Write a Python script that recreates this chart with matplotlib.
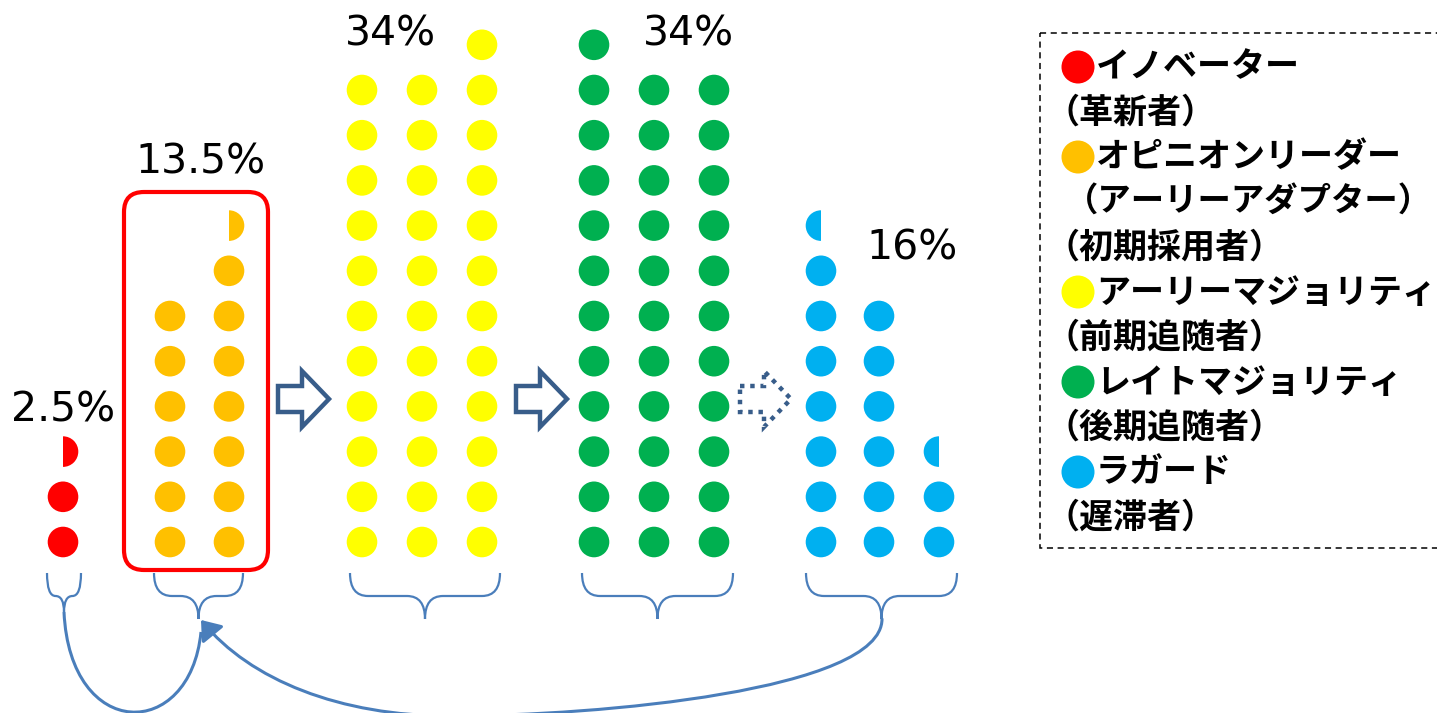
import numpy as np
import matplotlib
matplotlib.use('Agg')
import matplotlib.pyplot as plt
from matplotlib.patches import Circle, Wedge, Polygon, Rectangle, FancyBboxPatch, FancyArrowPatch, PathPatch
from matplotlib.path import Path

plt.rcParams['font.family'] = ['Noto Sans CJK JP', 'DejaVu Sans']

# データ: 各層と割合 (1ドット = 1%)
groups = ['イノベーター', 'オピニオンリーダー', 'アーリーマジョリティ', 'レイトマジョリティ', 'ラガード']
alt_names = ['', '（アーリーアダプター）', '', '', '']
subtitles = ['（革新者）', '（初期採用者）', '（前期追随者）', '（後期追随者）', '（遅滞者）']
shares = [2.5, 13.5, 34, 34, 16]
percent_labels = ['2.5%', '13.5%', '34%', '34%', '16%']
column_counts = [[2.5], [6, 7.5], [11, 11, 12], [12, 11, 11], [7.5, 6, 2.5]]
colors = ['#FF0000', '#FFC000', '#FFFF00', '#00B050', '#00B0F0']

# レイアウト (ピクセル座標)
column_x = [[63], [170, 229], [362, 422, 482], [594, 654, 714], [821, 879, 939]]
half_side = ['right', 'right', 'right', 'right', 'left']
label_pos = [(63, 411), (200, 163), (391, 35), (688, 35), (912, 248)]
brace_span = [(47, 81), (154, 243), (350, 500), (582, 733), (806, 957)]
y_bottom = 542
dy = 45.2
r = 15.3

fig = plt.figure(figsize=(14.37, 7.13), dpi=100)
ax = fig.add_axes([0, 0, 1, 1])
ax.set_xlim(0, 1437)
ax.set_ylim(713, 0)
ax.axis('off')

# ドット
for g in range(len(groups)):
    for x, n in zip(column_x[g], column_counts[g]):
        full = int(n)
        for k in range(full):
            ax.add_patch(Circle((x, y_bottom - k * dy), r, fc=colors[g], ec='none'))
        if n - full > 0:
            y = y_bottom - full * dy
            if half_side[g] == 'right':
                ax.add_patch(Wedge((x, y), r, -90, 90, fc=colors[g], ec='none'))
            else:
                ax.add_patch(Wedge((x, y), r, 90, 270, fc=colors[g], ec='none'))
    ax.text(label_pos[g][0], label_pos[g][1], percent_labels[g], fontsize=29.5,
            ha='center', va='center', color='black', family='DejaVu Sans')

# オピニオンリーダーの赤枠
ax.add_patch(FancyBboxPatch((124, 192), 144, 378, boxstyle='round,pad=0,rounding_size=20',
                            fc='none', ec='#FF0000', lw=3))

# 矢印
arrow_color = '#385D8A'
arrow_shape = np.array([(0, -13), (24, -13), (24, -28), (51, 0), (24, 28), (24, 13), (0, 13)])
for i, x0 in enumerate([278, 516, 740]):
    pts = arrow_shape + [x0, 399]
    if i < 2:
        ax.add_patch(Polygon(pts, closed=True, fc='white', ec=arrow_color, lw=3.2, joinstyle='miter'))
    else:
        ax.add_patch(Polygon(pts, closed=True, fc='white', ec=arrow_color, lw=3.2,
                             linestyle=(0, (1, 1.3)), joinstyle='miter'))

# 中括弧
brace_color = '#4A7EBB'
for i, (x0, x1) in enumerate(brace_span):
    xc = (x0 + x1) / 2
    top, mid = 573, 596
    tip = 612 if i == 0 else 619
    rr = min(18, (x1 - x0) / 4)
    codes = [Path.MOVETO, Path.CURVE3, Path.CURVE3,
             Path.LINETO, Path.CURVE3, Path.CURVE3,
             Path.MOVETO, Path.CURVE3, Path.CURVE3,
             Path.LINETO, Path.CURVE3, Path.CURVE3]
    verts = [(x0, top), (x0, mid), (x0 + rr, mid),
             (xc - rr, mid), (xc, mid), (xc, tip),
             (xc, tip), (xc, mid), (xc + rr, mid),
             (x1 - rr, mid), (x1, mid), (x1, top)]
    ax.add_patch(PathPatch(Path(verts, codes), fc='none', ec=brace_color, lw=1.6))

# 戻りの曲線
u_path = Path([(64, 612), (70, 742), (190, 742), (201, 632)],
              [Path.MOVETO, Path.CURVE4, Path.CURVE4, Path.CURVE4])
ax.add_patch(PathPatch(u_path, fc='none', ec=brace_color, lw=2.2))
back_path = Path([(882, 619), (882, 690), (600, 716), (450, 716),
                  (340, 716), (250, 680), (201, 620)],
                 [Path.MOVETO, Path.CURVE4, Path.CURVE4, Path.CURVE4,
                  Path.CURVE4, Path.CURVE4, Path.CURVE4])
ax.add_patch(FancyArrowPatch(path=back_path, arrowstyle='-|>,head_length=0.4,head_width=0.3',
                             mutation_scale=28, color=brace_color, lw=2.2))

# 凡例
ax.add_patch(Rectangle((1040, 33), 420, 515, fc='none', ec='black', lw=1.1,
                       linestyle=(0, (4, 3))))
lines = []
for g in range(len(groups)):
    lines.append((groups[g], colors[g], 0, 24.5))
    if alt_names[g]:
        lines.append((alt_names[g], None, 20, 24))
    lines.append((subtitles[g], None, 0, 24.5))
for i, (txt, c, indent, fs) in enumerate(lines):
    y = 67 + i * 45
    if c is not None:
        ax.add_patch(Circle((1078, y), 16.5, fc=c, ec='none'))
        ax.text(1096, y, txt, fontsize=fs, fontweight='bold', ha='left', va='center')
    else:
        ax.text(1045 + indent, y, txt, fontsize=fs, fontweight='bold', ha='left', va='center')

fig.savefig('out.png', dpi=100)
